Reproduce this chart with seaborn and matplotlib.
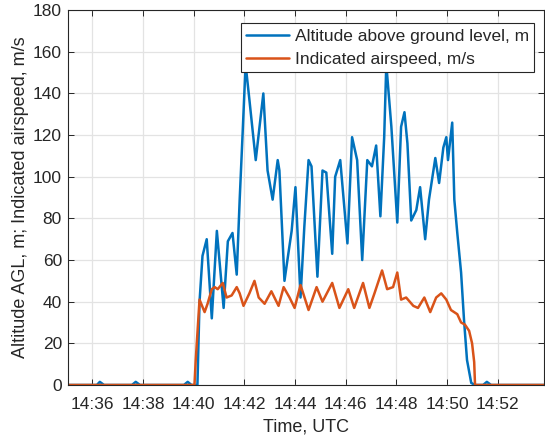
import pandas as pd
import matplotlib
matplotlib.use("Agg")
import matplotlib.pyplot as plt
import matplotlib.dates as mdates
import seaborn as sns

# Datos
alt_time = ["14:35:03", "14:36:11", "14:36:18", "14:36:28", "14:37:34", "14:37:43",
            "14:37:53", "14:39:37", "14:39:46", "14:39:55", "14:40:09", "14:40:14",
            "14:40:21", "14:40:31", "14:40:43", "14:40:55", "14:41:11", "14:41:21",
            "14:41:32", "14:41:42", "14:41:49", "14:41:56", "14:42:03", "14:42:12",
            "14:42:27", "14:42:45", "14:42:55", "14:43:07", "14:43:19", "14:43:23",
            "14:43:35", "14:43:42", "14:43:52", "14:44:01", "14:44:13", "14:44:22",
            "14:44:32", "14:44:39", "14:44:53", "14:45:05", "14:45:14", "14:45:28",
            "14:45:35", "14:45:47", "14:46:04", "14:46:15", "14:46:27", "14:46:39",
            "14:46:51", "14:47:02", "14:47:12", "14:47:22", "14:47:31", "14:47:36",
            "14:47:48", "14:48:02", "14:48:11", "14:48:19", "14:48:26", "14:48:35",
            "14:48:47", "14:48:56", "14:49:08", "14:49:17", "14:49:32", "14:49:41",
            "14:49:51", "14:49:58", "14:50:02", "14:50:12", "14:50:17", "14:50:24",
            "14:50:33", "14:50:40", "14:50:47", "14:50:57", "14:51:06", "14:51:25",
            "14:51:34", "14:51:44", "14:53:49"]
alt_agl = [0, 0, 1.5, 0, 0, 1.5,
           0, 0, 1.5, 0, 0, 40,
           62, 70, 32, 74, 37, 69,
           73, 53, 89, 121, 154, 137,
           108, 140, 103, 89, 108, 103,
           50, 60, 74, 95, 42, 76,
           108, 105, 52, 103, 102, 63,
           100, 108, 68, 119, 108, 60,
           108, 105, 115, 81, 119, 154,
           124, 78, 124, 131, 116, 79,
           84, 95, 70, 89, 109, 97,
           114, 119, 108, 126, 89, 73,
           54, 31, 12, 1, 0, 0,
           1.5, 0, 0]

ias_time = ["14:35:03", "14:40:02", "14:40:05", "14:40:14", "14:40:26", "14:40:33",
            "14:40:43", "14:40:50", "14:40:57", "14:41:09", "14:41:18", "14:41:30",
            "14:41:42", "14:41:49", "14:41:58", "14:42:12", "14:42:24", "14:42:34",
            "14:42:48", "14:43:04", "14:43:21", "14:43:33", "14:43:47", "14:43:59",
            "14:44:13", "14:44:32", "14:44:51", "14:45:05", "14:45:28", "14:45:45",
            "14:46:06", "14:46:20", "14:46:41", "14:46:56", "14:47:08", "14:47:26",
            "14:47:38", "14:47:52", "14:48:02", "14:48:11", "14:48:23", "14:48:40",
            "14:48:51", "14:49:06", "14:49:20", "14:49:34", "14:49:46", "14:49:58",
            "14:50:09", "14:50:24", "14:50:33", "14:50:42", "14:50:52", "14:50:59",
            "14:51:04", "14:51:06", "14:53:49"]
ias = [0, 0, 12, 41, 35, 39,
       46, 47, 46, 49, 42, 43,
       47, 44, 38, 44, 50, 42,
       39, 45, 38, 47, 42, 37,
       48, 36, 47, 40, 49, 37,
       46, 37, 49, 37, 44, 55,
       46, 47, 54, 41, 42, 38,
       37, 42, 35, 42, 44, 41,
       36, 34, 30, 29, 26, 20,
       11, 0, 0]

lbl_alt = "Altitude above ground level, m"
lbl_ias = "Indicated airspeed, m/s"

df = pd.concat([
    pd.DataFrame({"t": alt_time, "v": alt_agl, "serie": lbl_alt}),
    pd.DataFrame({"t": ias_time, "v": ias, "serie": lbl_ias}),
])
df["t"] = pd.to_datetime("2020-01-01 " + df["t"])

sns.set_theme(style="whitegrid")
plt.rcParams['font.family'] = ['Liberation Sans', 'DejaVu Sans']

fig = plt.figure(figsize=(5.45, 4.42), dpi=100)
ax = fig.add_axes([0.125, 0.129, 0.873, 0.848])
sns.lineplot(data=df, x="t", y="v", hue="serie", palette=["#0072BD", "#D95319"],
             linewidth=1.8, ax=ax, sort=False, estimator=None)

ax.set_xlim(pd.Timestamp("2020-01-01 14:35:03"), pd.Timestamp("2020-01-01 14:53:49"))
ax.set_ylim(0, 180)
ax.set_yticks(range(0, 181, 20))
ax.xaxis.set_major_locator(mdates.MinuteLocator(byminute=range(0, 60, 2)))
ax.xaxis.set_major_formatter(mdates.DateFormatter("%H:%M"))

ax.set_facecolor("white")
ax.grid(True, color="#e3e3e3", linewidth=0.9)
for s in ax.spines.values():
    s.set_visible(True)
    s.set_color("#262626")
    s.set_linewidth(0.8)
ax.tick_params(direction="in", length=4, width=0.7, color="#262626",
               labelsize=12.5, labelcolor="#262626", top=True, right=True,
               bottom=True, left=True)
ax.tick_params(axis="x", pad=8.5)
ax.tick_params(axis="y", pad=4.5)

ax.set_xlabel("Time, UTC", fontsize=13, color="#262626", labelpad=5)
ax.set_ylabel("Altitude AGL, m; Indicated airspeed, m/s", fontsize=13,
              color="#262626", labelpad=3)

leg = ax.legend(loc="upper right", bbox_to_anchor=(0.979, 0.965), fontsize=12.5,
                frameon=True, fancybox=False, handlelength=2.5, borderpad=0.3,
                labelspacing=0.45, handletextpad=0.3, borderaxespad=0)
leg.get_frame().set_edgecolor("#262626")
leg.get_frame().set_linewidth(0.8)
leg.get_frame().set_alpha(1)
for h in leg.get_lines():
    h.set_linewidth(1.8)

fig.savefig("out.png", dpi=100)
